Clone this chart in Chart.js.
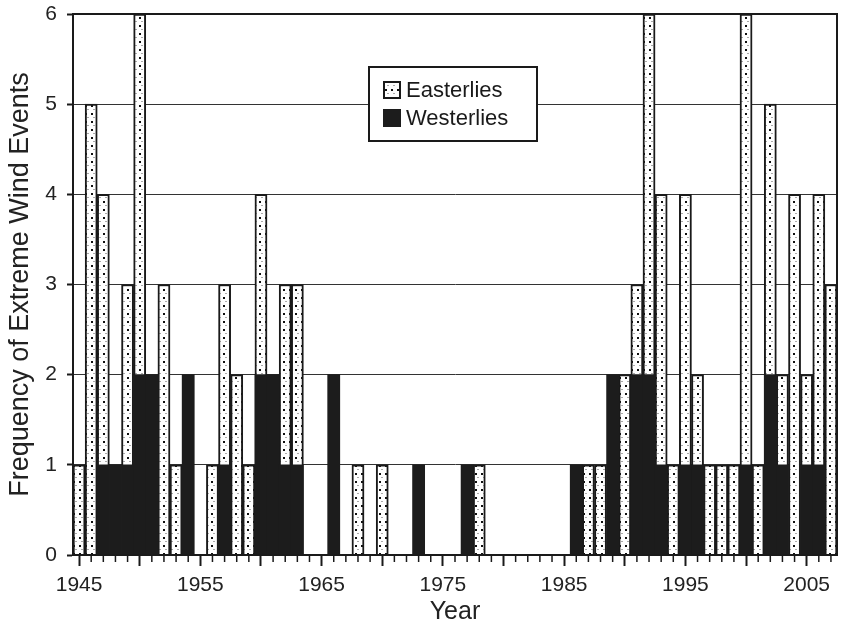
<!DOCTYPE html>
<html>
<head>
<meta charset="utf-8">
<script src="https://cdn.jsdelivr.net/npm/chart.js@4.4.1/dist/chart.umd.min.js"></script>
<style>
  body { margin: 0; background: #fff; }
  canvas { display: block; }
</style>
</head>
<body>
<canvas id="chart" width="841" height="629"></canvas>
<script>
const years = [
  1945, 1946, 1947, 1948, 1949, 1950, 1951, 1952, 1953, 1954,
  1955, 1956, 1957, 1958, 1959, 1960, 1961, 1962, 1963, 1964,
  1965, 1966, 1967, 1968, 1969, 1970, 1971, 1972, 1973, 1974,
  1975, 1976, 1977, 1978, 1979, 1980, 1981, 1982, 1983, 1984,
  1985, 1986, 1987, 1988, 1989, 1990, 1991, 1992, 1993, 1994,
  1995, 1996, 1997, 1998, 1999, 2000, 2001, 2002, 2003, 2004,
  2005, 2006, 2007
];
const easterlies = [
  1, 5, 4, 0, 3, 6, 0, 3, 1, 0,
  0, 1, 3, 2, 1, 4, 0, 3, 3, 0,
  0, 0, 0, 1, 0, 1, 0, 0, 0, 0,
  0, 0, 0, 1, 0, 0, 0, 0, 0, 0,
  0, 0, 1, 1, 0, 2, 3, 6, 4, 1,
  4, 2, 1, 1, 1, 6, 1, 5, 2, 4,
  2, 4, 3
];
const westerlies = [
  0, 0, 1, 1, 1, 2, 2, 0, 0, 2,
  0, 0, 1, 0, 0, 2, 2, 1, 1, 0,
  0, 2, 0, 0, 0, 0, 0, 0, 1, 0,
  0, 0, 1, 0, 0, 0, 0, 0, 0, 0,
  0, 1, 0, 0, 2, 0, 2, 2, 1, 0,
  1, 1, 0, 0, 0, 1, 0, 2, 1, 0,
  1, 1, 0
];

const FONT = 'Liberation Sans, Arial, sans-serif';
const INK = '#1a1a1a';

// white fill with black and grey dots, like the stipple in the original
function stipple(ctx) {
  const p = document.createElement('canvas');
  p.width = 6; p.height = 8;
  const g = p.getContext('2d');
  g.fillStyle = '#fff';
  g.fillRect(0, 0, 6, 8);
  g.fillStyle = '#111';
  g.fillRect(1, 1, 2, 2);
  g.fillStyle = '#aaa';
  g.fillRect(4, 5, 1, 1);
  g.fillRect(3, 5, 1, 1);
  return ctx.createPattern(p, 'repeat');
}

const ctx = document.getElementById('chart').getContext('2d');
const dots = stipple(ctx);

// minor year ticks (shorter than the 5-year ones drawn by the axis)
const minorTicks = {
  id: 'minorTicks',
  afterDraw(chart) {
    const x = chart.scales.x;
    const c = chart.ctx;
    c.save();
    c.strokeStyle = INK;
    c.lineWidth = 1.5;
    x.ticks.forEach((t, i) => {
      if (years[i] % 5 === 0) return;
      const px = x.getPixelForTick(i);
      c.beginPath();
      c.moveTo(px, x.top);
      c.lineTo(px, x.top + 7);
      c.stroke();
    });
    c.restore();
  }
};

const frame = {
  id: 'frame',
  afterDatasetsDraw(chart) {
    const a = chart.chartArea;
    const c = chart.ctx;
    c.save();
    c.strokeStyle = INK;
    c.lineWidth = 2;
    c.strokeRect(a.left, a.top, a.right - a.left, a.bottom - a.top);
    c.restore();
  }
};

// boxed legend inside the plot
const boxLegend = {
  id: 'boxLegend',
  afterDraw(chart) {
    const c = chart.ctx;
    const bx = 369, by = 67, bw = 168, bh = 74;
    c.save();
    c.fillStyle = '#fff';
    c.fillRect(bx, by, bw, bh);
    c.strokeStyle = INK;
    c.lineWidth = 2;
    c.strokeRect(bx, by, bw, bh);
    c.font = '22px ' + FONT;
    c.textBaseline = 'middle';
    chart.data.datasets.forEach((ds, i) => {
      const cy = by + 23 + i * 28;
      c.fillStyle = ds.backgroundColor;
      c.fillRect(383, cy - 9, 18, 18);
      if (ds.borderWidth) {
        c.strokeStyle = ds.borderColor;
        c.lineWidth = 2;
        c.strokeRect(384, cy - 8, 16, 16);
      }
      c.fillStyle = '#1a1a1a';
      c.fillText(ds.label, 406, cy + 1);
    });
    c.restore();
  }
};

new Chart(ctx, {
  type: 'bar',
  data: {
    labels: years,
    datasets: [
      {
        label: 'Easterlies',
        data: easterlies,
        backgroundColor: dots,
        borderColor: INK,
        borderWidth: 2,
        grouped: false,
        order: 1,
        categoryPercentage: 1,
        barPercentage: 1
      },
      {
        label: 'Westerlies',
        data: westerlies,
        backgroundColor: '#1c1c1c',
        borderWidth: 0,
        grouped: false,
        order: 0,
        categoryPercentage: 1,
        barPercentage: 1
      }
    ]
  },
  options: {
    responsive: false,
    animation: false,
    layout: { padding: { top: 14, right: 4, left: 0, bottom: 0 } },
    plugins: {
      legend: { display: false },
      tooltip: { enabled: false }
    },
    scales: {
      x: {
        grid: {
          drawOnChartArea: false,
          offset: false,
          tickLength: 11,
          tickWidth: 2,
          tickColor: (c) => years[c.index] % 5 === 0 ? INK : 'rgba(0,0,0,0)'
        },
        border: { color: INK, width: 2 },
        ticks: {
          autoSkip: false,
          maxRotation: 0,
          padding: 7,
          color: '#222',
          font: { family: FONT, size: 21 },
          callback: (v, i) => years[i] % 10 === 5 ? String(years[i]) : ''
        },
        title: {
          display: true,
          text: 'Year',
          color: '#222',
          font: { family: FONT, size: 25 },
          padding: 2
        },
        afterFit: (s) => { s.height = 74; s.paddingLeft = 0; s.paddingRight = 0; }
      },
      y: {
        min: 0,
        max: 6,
        ticks: {
          stepSize: 1,
          padding: 10,
          color: '#222',
          font: { family: FONT, size: 21 }
        },
        grid: {
          color: '#333',
          lineWidth: 1,
          tickLength: 6,
          tickColor: INK,
          tickWidth: 2
        },
        border: { color: INK, width: 2 },
        title: {
          display: true,
          text: 'Frequency of Extreme Wind Events',
          color: '#222',
          font: { family: FONT, size: 27 },
          padding: 4
        },
        afterFit: (s) => { s.width = 73; s.paddingTop = 0; s.paddingBottom = 0; }
      }
    }
  },
  plugins: [minorTicks, frame, boxLegend]
});
</script>
</body>
</html>
